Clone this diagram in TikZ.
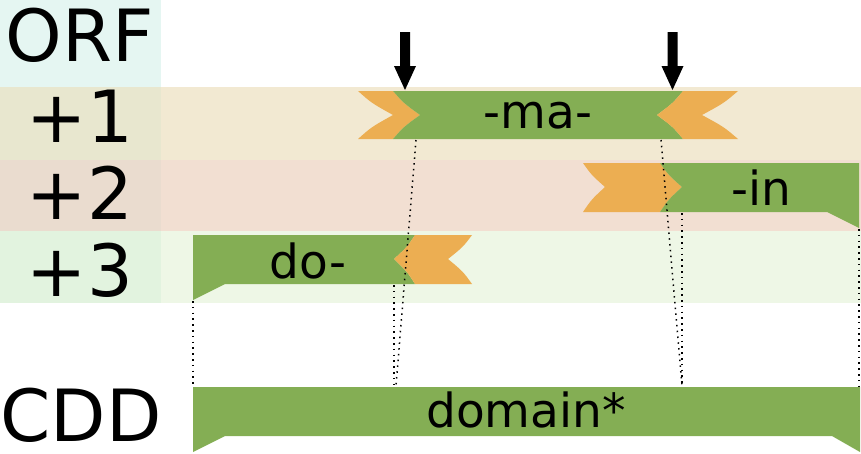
\documentclass[tikz,border=0pt]{standalone}
\usepackage{fontspec}
\setmainfont{DejaVu Sans}
\definecolor{ribgreen}{HTML}{84AE54}
\definecolor{riborange}{HTML}{ECAE52}
\definecolor{orfcell}{HTML}{E5F6F2}
\definecolor{rowA}{HTML}{F2E9D2}
\definecolor{rowAl}{HTML}{E8E7CF}
\definecolor{rowB}{HTML}{F2DFD2}
\definecolor{rowBl}{HTML}{EADCCF}
\definecolor{rowC}{HTML}{EEF7E6}
\definecolor{rowCl}{HTML}{E2F3DF}
\tikzset{
  gpart/.style={fill=ribgreen, draw=none},
  opart/.style={fill=riborange, draw=none},
  dotline/.style={draw=black, line width=1.5pt, dash pattern=on 1.5pt off 4.3pt},
  biglabel/.style={inner sep=0pt, anchor=base, font=\fontsize{72}{78}\selectfont},
  riblabel/.style={inner sep=0pt, anchor=base, font=\fontsize{47}{52}\selectfont},
  marker/.style={fill=black, draw=none}
}
\begin{document}
\begin{tikzpicture}[x=1pt,y=-1pt]
\useasboundingbox (0,0) rectangle (861,453);
% background bands
\fill[orfcell] (0,0) rectangle (161,87);
\fill[rowA] (0,87) rectangle (861,160);
\fill[rowAl] (0,87) rectangle (161,160);
\fill[rowB] (0,160) rectangle (861,231);
\fill[rowBl] (0,160) rectangle (161,231);
\fill[rowC] (0,231) rectangle (861,303);
\fill[rowCl] (0,231) rectangle (161,303);
% row labels
\node[biglabel] (orf) at (80,61) {ORF};
\node[biglabel] (r1) at (80,142) {+1};
\node[biglabel] (r2) at (80,219) {+2};
\node[biglabel] (r3) at (80,296) {+3};
\node[biglabel, anchor=base west, text depth=0pt] (cdd) at (0.5,441) {CDD};
% ---- +1 ribbon (-ma-)
\path[opart] (358,91) -- (393,91) .. controls (403.5,103) .. (420,115)
  .. controls (403.5,127) .. (393,139) -- (358,139)
  .. controls (371.5,127) .. (393,115) .. controls (371.5,103) .. cycle;
\path[gpart] (393,91) -- (683,91) .. controls (673,103) .. (657,115)
  .. controls (673,127) .. (683,139) -- (393,139)
  .. controls (403.5,127) .. (420,115) .. controls (403.5,103) .. cycle;
\path[opart] (683,91) -- (738,91) .. controls (724,103) .. (702,115)
  .. controls (724,127) .. (738,139) -- (683,139)
  .. controls (673,127) .. (657,115) .. controls (673,103) .. cycle;
\node[riblabel] (ma) at (538,128) {-ma-};
% ---- +2 ribbon (-in)
\path[opart] (583,163) -- (660,163) .. controls (668.5,175) .. (682,187)
  .. controls (668.5,199.5) .. (660,212) -- (583,212)
  .. controls (591.5,199.5) .. (605,187) .. controls (591.5,175) .. cycle;
\path[gpart] (660,163) -- (859,163) -- (859,228) -- (827,212) -- (660,212)
  .. controls (668.5,199.5) .. (682,187) .. controls (668.5,175) .. cycle;
\node[riblabel] (in) at (761,205) {-in};
% ---- +3 ribbon (do-)
\path[gpart] (193,235) -- (415,235) .. controls (407,247) .. (394,259)
  .. controls (407,271.5) .. (415,284) -- (225,284) -- (193,300) -- cycle;
\path[opart] (415,235) -- (472,235) .. controls (463,247) .. (448,259)
  .. controls (463,271.5) .. (472,284) -- (415,284)
  .. controls (407,271.5) .. (394,259) .. controls (407,247) .. cycle;
\node[riblabel] (do) at (308,278) {do-};
% ---- CDD domain
\path[gpart] (193,387) -- (860,387) -- (860,452) -- (832,436) -- (225,436)
  -- (193,452) -- cycle;
\node[riblabel] (dom) at (526,427) {domain*};
% ---- arrows
\path[marker] (400,32) -- (410,32) -- (410,66) -- (416,66) -- (405,90)
  -- (394,66) -- (400,66) -- cycle;
\path[marker] (667.5,32) -- (677.5,32) -- (677.5,66) -- (683.5,66) -- (672.5,90)
  -- (661.5,66) -- (667.5,66) -- cycle;
% ---- dotted correspondences
\coordinate (a1) at (193,301);  \coordinate (b1) at (193,386);
\coordinate (a2) at (416,140);  \coordinate (b2) at (396,386);
\coordinate (a3) at (394,285);  \coordinate (b3) at (394,386);
\coordinate (a4) at (661,140);  \coordinate (b4) at (682,386);
\coordinate (a5) at (682,213);  \coordinate (b5) at (682,386);
\coordinate (a6) at (859,229);  \coordinate (b6) at (859,386);
\draw[dotline] (a1) -- (b1);
\draw[dotline] (a2) -- (b2);
\draw[dotline] (a3) -- (b3);
\draw[dotline] (a4) -- (b4);
\draw[dotline] (a5) -- (b5);
\draw[dotline] (a6) -- (b6);
\end{tikzpicture}
\end{document}
